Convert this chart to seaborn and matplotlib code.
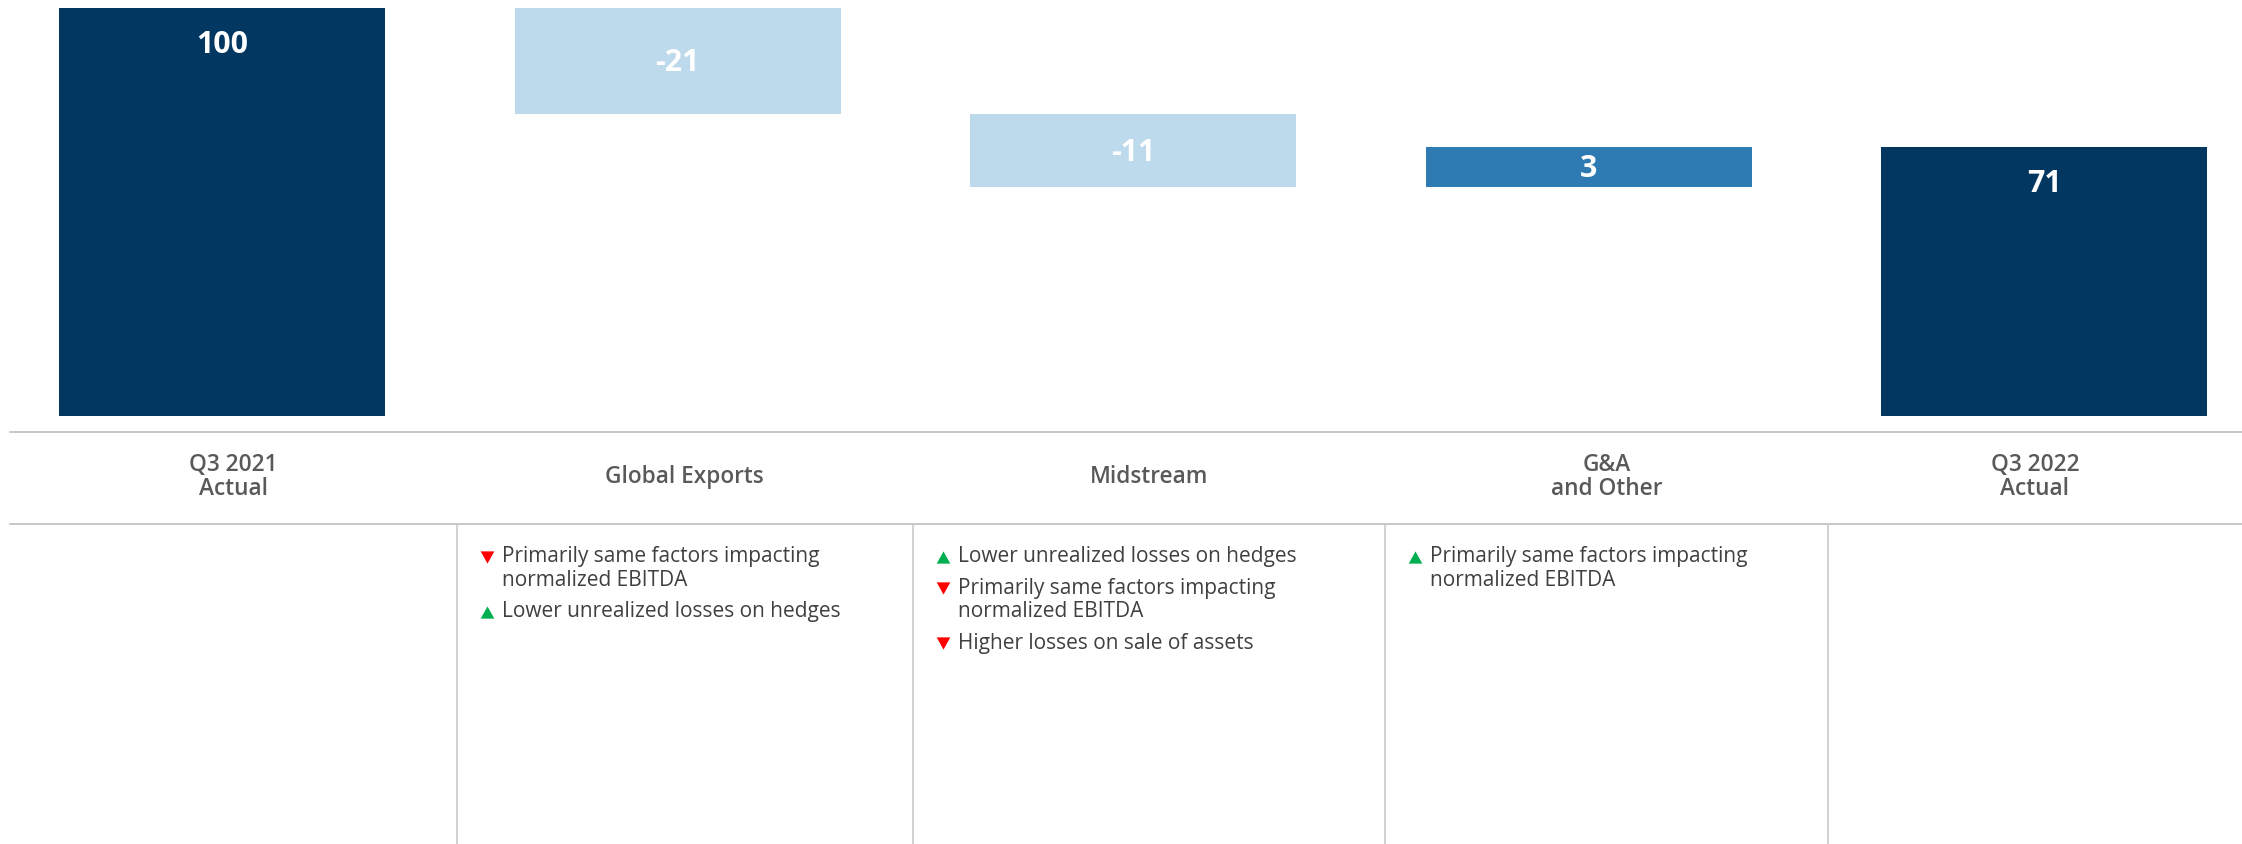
import matplotlib
matplotlib.use("Agg")
import matplotlib.pyplot as plt
import seaborn as sns
import numpy as np
import pandas as pd
from matplotlib.lines import Line2D

# ---------------- data ----------------
categories = ["Q3 2021\nActual", "Global Exports", "Midstream", "G&A\nand Other", "Q3 2022\nActual"]
bar_kind = ["total", "delta", "delta", "delta", "total"]
bar_steps = [100, -26, -18, 10, 66]          # bar extents as drawn in the picture
value_labels = ["100", "-21", "-11", "3", "71"]
bar_colors = ["#023762", "#BDD9EC", "#BDD9EC", "#2E7BB3", "#023762"]

bullets_global = [("down", "Primarily same factors impacting\nnormalized EBITDA"),
                  ("up", "Lower unrealized losses on hedges")]
bullets_mid = [("up", "Lower unrealized losses on hedges"),
               ("down", "Primarily same factors impacting\nnormalized EBITDA"),
               ("down", "Higher losses on sale of assets")]
bullets_ga = [("up", "Primarily same factors impacting\nnormalized EBITDA")]
column_bullets = [[], bullets_global, bullets_mid, bullets_ga, []]

# ---------------- layout ----------------
W, H = 2242, 844
sns.set_theme(style="white")
plt.rcParams["font.family"] = ["Open Sans", "DejaVu Sans"]

fig = plt.figure(figsize=(W / 100, H / 100), dpi=100)
fig.patch.set_facecolor("white")

def fx(px):
    return px / W

def fy(py):
    return 1 - py / H

axis_bottom_px = 431.7
ax = fig.add_axes([0, fy(axis_bottom_px), 1, axis_bottom_px / H])

# waterfall geometry
bottoms, heights = [], []
level = 0
for kind, v in zip(bar_kind, bar_steps):
    if kind == "total":
        bottoms.append(0)
        heights.append(v)
        level = v
    else:
        bottoms.append(level + min(v, 0))
        heights.append(abs(v))
        level += v

df = pd.DataFrame({"cat": categories, "height": heights, "bottom": bottoms})
sns.barplot(data=df, x="cat", y="height", bottom=df["bottom"].to_numpy(),
            color=bar_colors[0], width=0.7155, errorbar=None, saturation=1,
            linewidth=0, ax=ax)
for p, c in zip(ax.patches, bar_colors):
    p.set_facecolor(c)
    p.set_edgecolor(c)

# mapping: x center 222px, spacing 455.6px; y baseline 415.6px, 4.076 px/unit
spacing, x0 = 455.6, 222.0
ax.set_xlim(-x0 / spacing, (W - x0) / spacing)
ppu = 4.076
ax.set_ylim(-(axis_bottom_px - 415.6) / ppu, 100 + 8 / ppu)
ax.axis("off")

# font fitting helper
renderer = fig.canvas.get_renderer()
def fit_size(text, target_px, weight="normal", base=20):
    t = fig.text(0, 0, text, fontsize=base, weight=weight)
    w = t.get_window_extent(renderer).width
    t.remove()
    return base * target_px / w

val_fs = fit_size("100", 52, weight="bold")
cat_fs = fit_size("Global Exports", 158, weight="semibold")
bul_fs = fit_size("Primarily same factors impacting", 318)

# value labels (baseline placement)
for i, (kind, lab) in enumerate(zip(bar_kind, value_labels)):
    top = bottoms[i] + heights[i]
    if kind == "total":
        y = top - 45 / ppu
    else:
        y = bottoms[i] + heights[i] / 2 - 10.5 / ppu
    ax.text(i, y, lab, ha="center", va="baseline", color="white",
            fontsize=val_fs, fontweight="bold")

# grid lines
line_col = "#C8C8C8"
for py in (431.7, 524):
    fig.add_artist(Line2D([fx(10), 1], [fy(py), fy(py)], color=line_col, lw=2.0 * 0.72))
col_edges = [10, 457, 912.5, 1385, 1828, W]
for px in col_edges[1:-1]:
    fig.add_artist(Line2D([fx(px), fx(px)], [fy(524), 0], color=line_col, lw=1.6 * 0.72))

# category labels
cat_pitch = 23.3
for i, cat in enumerate(categories):
    cx = (col_edges[i] + col_edges[i + 1]) / 2
    lines = cat.split("\n")
    ystart = 477 - cat_pitch * (len(lines) - 1) / 2
    for k, ln in enumerate(lines):
        fig.text(fx(cx), fy(ystart + k * cat_pitch), ln, ha="center", va="center",
                 color="#595959", fontsize=cat_fs, fontweight="semibold")

# bullets
line_pitch, bullet_gap = 23.3, 31.5
tri_up = [(-1, -0.9), (1, -0.9), (0, 0.9)]
tri_dn = [(-1, 0.9), (1, 0.9), (0, -0.9)]
for i, items in enumerate(column_bullets):
    left = col_edges[i]
    y = 562.3
    for direction, text in items:
        col = "#00B050" if direction == "up" else "#FF0000"
        fig.add_artist(Line2D([fx(left + 30)], [fy(y - 5.5)], marker=tri_up if direction == "up" else tri_dn,
                              markersize=9.8, color=col, markeredgewidth=0, linestyle="none"))
        lines = text.split("\n")
        for k, ln in enumerate(lines):
            fig.text(fx(left + 45), fy(y + k * line_pitch), ln, ha="left", va="baseline",
                     color="#404040", fontsize=bul_fs)
        y += (len(lines) - 1) * line_pitch + bullet_gap

fig.savefig("out.png", dpi=100, facecolor="white")
